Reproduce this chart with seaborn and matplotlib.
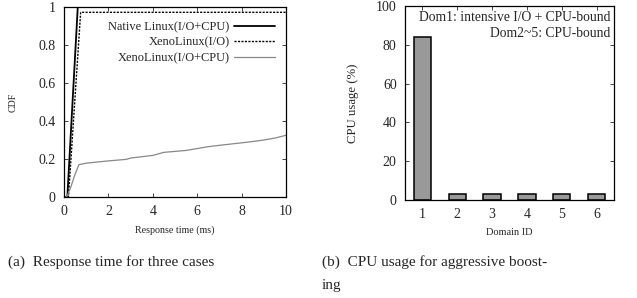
import matplotlib
matplotlib.use("Agg")
import matplotlib.pyplot as plt
import seaborn as sns
import numpy as np

# CDF data (response time in ms)
native_x = [0.0, 0.15, 0.62, 10.0]
native_y = [0.0, 0.0, 1.0, 1.0]
xio_x = [0.0, 0.2, 0.75, 10.0]
xio_y = [0.0, 0.0, 0.972, 0.972]
xcpu_x = [0.0, 0.12, 0.3, 0.5, 0.67, 1.0, 2.0, 2.8, 3.0, 4.0, 4.5, 5.0, 5.5, 6.0, 6.5, 7.0, 8.0, 8.5, 9.0, 9.5, 10.0]
xcpu_y = [0.0, 0.0, 0.05, 0.12, 0.17, 0.178, 0.19, 0.198, 0.205, 0.219, 0.235, 0.24, 0.245, 0.255, 0.265, 0.272, 0.285, 0.292, 0.3, 0.31, 0.325]

# CPU usage per domain
domains = [1, 2, 3, 4, 5, 6]
cpu_usage = [84, 3, 3, 3, 3, 3]

sns.set_style("ticks")
plt.rcParams['font.family'] = ['Liberation Serif', 'DejaVu Serif']

fig = plt.figure(figsize=(6.37, 2.98), dpi=100)
W, H = 637, 298
ax1 = fig.add_axes([64 / W, 1 - 197 / H, (286 - 64) / W, (197 - 7) / H])
ax2 = fig.add_axes([405 / W, 1 - 200 / H, (614 - 405) / W, (200 - 6) / H])

for ax in (ax1, ax2):
    ax.tick_params(direction='in', top=True, right=True, labelsize=10, length=3, width=0.6, pad=6)
    for s in ax.spines.values():
        s.set_linewidth(0.9)
        s.set_color('black')

# left: CDF
sns.lineplot(x=native_x, y=native_y, ax=ax1, color='black', linewidth=1.3,
             label='Native Linux(I/O+CPU)', sort=False)
sns.lineplot(x=xio_x, y=xio_y, ax=ax1, color='black', linewidth=1.0, linestyle=(0, (1.5, 1)),
             label='XenoLinux(I/O)', sort=False)
sns.lineplot(x=xcpu_x, y=xcpu_y, ax=ax1, color='#888888', linewidth=0.9,
             label='XenoLinux(I/O+CPU)', sort=False)
ax1.set_xlim(0, 10)
ax1.set_ylim(0, 1)
ax1.set_xticks([0, 2, 4, 6, 8, 10])
ax1.set_yticks([0, 0.2, 0.4, 0.6, 0.8, 1])
ax1.set_yticklabels(['0', '0.2', '0.4', '0.6', '0.8', '1'])
ax1.set_xlabel('Response time (ms)', fontsize=7.2, labelpad=5)
ax1.set_ylabel('CDF', fontsize=7.2, labelpad=15)
leg = ax1.legend(loc='upper right', frameon=False, markerfirst=False, fontsize=8.9,
                 handlelength=3.3, handletextpad=0.4, labelspacing=0.3,
                 bbox_to_anchor=(0.985, 0.965), borderaxespad=0.2)
for t in leg.get_texts():
    t.set_ha('right')
leg._legend_box.align = 'right'

# right: CPU usage bars
sns.barplot(x=domains, y=cpu_usage, ax=ax2, native_scale=True, width=0.5,
            color='#999999', saturation=1, edgecolor='black', linewidth=1.1)
ax2.set_xlim(0.5, 6.5)
ax2.set_ylim(0, 100)
ax2.set_xticks(domains)
ax2.set_yticks([0, 20, 40, 60, 80, 100])
ax2.set_xlabel('Domain ID', fontsize=7.5, labelpad=5)
ax2.set_ylabel('CPU usage (%)', fontsize=9.2, labelpad=12)
ax2.text(0.985, 0.975, 'Dom1: intensive I/O + CPU-bound\nDom2~5: CPU-bound',
         transform=ax2.transAxes, ha='right', va='top', fontsize=9.8,
         linespacing=1.3, multialignment='right')

# captions
fig.text(8 / W, 1 - 262 / H, '(a)  Response time for three cases', fontsize=11, va='center')
fig.text(322 / W, 1 - 262 / H, '(b)  CPU usage for aggressive boost-', fontsize=11, va='center')
fig.text(322 / W, 1 - 286 / H, 'ing', fontsize=11, va='center')

fig.savefig('out.png', dpi=100)
